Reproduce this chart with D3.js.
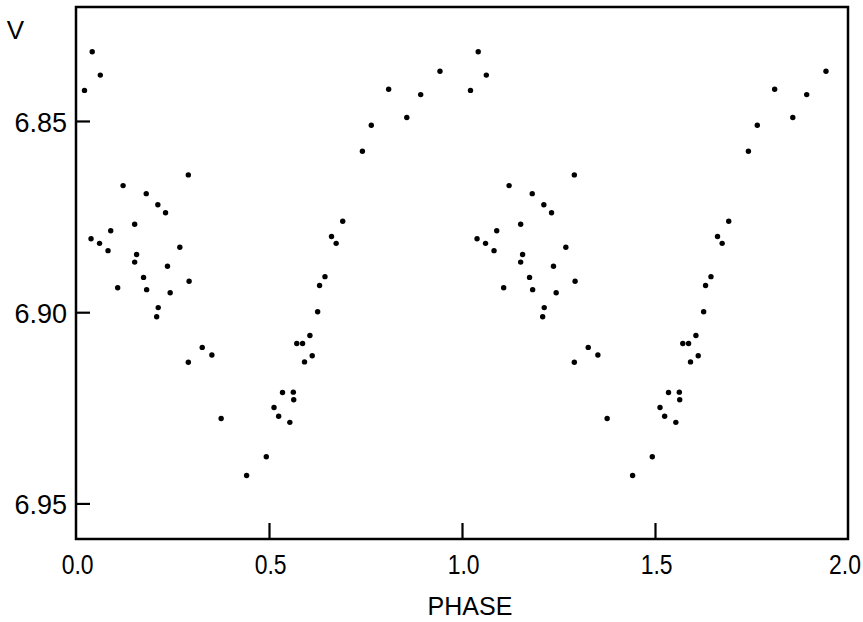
<!DOCTYPE html>
<html>
<head>
<meta charset="utf-8">
<script src="https://cdn.jsdelivr.net/npm/d3@7"></script>
<style>
  body { margin: 0; background: #fff; }
  text { font-family: "Liberation Sans", Arial, sans-serif; fill: #000; }
</style>
</head>
<body>
<div class="graph"></div>
<script>
// one cycle of observations, plotted twice (phase and phase + 1)
var phase = [0.022, 0.042, 0.063, 0.039, 0.061, 0.083, 0.090, 0.108, 0.122, 0.152,
             0.157, 0.152, 0.175, 0.182, 0.183, 0.212, 0.213, 0.209, 0.232, 0.237,
             0.244, 0.269, 0.291, 0.293, 0.291, 0.327, 0.352, 0.376, 0.442, 0.493,
             0.513, 0.525, 0.535, 0.554, 0.563, 0.564, 0.572, 0.587, 0.592, 0.612,
             0.606, 0.626, 0.631, 0.645, 0.662, 0.674, 0.691, 0.742, 0.765, 0.810,
             0.857, 0.893, 0.943];
var vmag = [6.8420, 6.8319, 6.8380, 6.8808, 6.8820, 6.8839, 6.8787, 6.8936, 6.8669, 6.8770,
            6.8849, 6.8869, 6.8909, 6.8690, 6.8941, 6.8719, 6.8988, 6.9012, 6.8740, 6.8880,
            6.8949, 6.8830, 6.8641, 6.8919, 6.9131, 6.9092, 6.9112, 6.9278, 6.9427, 6.9378,
            6.9249, 6.9272, 6.9210, 6.9288, 6.9209, 6.9229, 6.9082, 6.9082, 6.9130, 6.9114,
            6.9061, 6.8999, 6.8930, 6.8907, 6.8802, 6.8820, 6.8762, 6.8579, 6.8511, 6.8417,
            6.8491, 6.8431, 6.8370];
var xTicks = [0.0, 0.5, 1.0, 1.5, 2.0];
var yTicks = [6.85, 6.90, 6.95];

var width = 863;
var height = 622;

var svg = d3.select(".graph").append("svg")
  .attr("width", width)
  .attr("height", height);

var x = d3.scaleLinear().domain([0, 2]).range([76, 848]);
var y = d3.scaleLinear().domain([6.8202, 6.9593]).range([7, 539]);

var points = [];
phase.forEach(function (p, i) {
    points.push({ph: p, v: vmag[i]});
    points.push({ph: p + 1, v: vmag[i]});
});

// frame
svg.append("rect")
  .attr("x", x(0))
  .attr("y", y.range()[0])
  .attr("width", x(2) - x(0))
  .attr("height", y.range()[1] - y.range()[0])
  .attr("fill", "none")
  .attr("stroke", "#000")
  .attr("stroke-width", 2.5);

// x axis, ticks pointing inward
var xAxis = d3.axisBottom(x)
  .tickValues(xTicks)
  .tickSize(0)
  .tickPadding(16)
  .tickFormat(d3.format(".1f"));

var xAxisGroup = svg.append("g")
  .attr("transform", "translate(0," + y.range()[1] + ")")
  .call(xAxis);
xAxisGroup.select(".domain").remove();
xAxisGroup.selectAll(".tick text")
  .attr("transform", "scale(0.85,1)")
  .attr("dx", d => d === 2 ? "-0.15em" : "0.05em")
  .style("font-size", "27px");
xAxisGroup.selectAll(".tick").filter(function (d) { return d > 0 && d < 2; })
  .append("line")
  .attr("y2", -16)
  .attr("stroke", "#000")
  .attr("stroke-width", 2.2);

// y axis, ticks pointing inward
var yAxis = d3.axisLeft(y)
  .tickValues(yTicks)
  .tickSize(-14)
  .tickPadding(9)
  .tickFormat(d3.format(".2f"));

var yAxisGroup = svg.append("g")
  .attr("transform", "translate(" + x(0) + ",0)")
  .call(yAxis);
yAxisGroup.select(".domain").remove();
yAxisGroup.selectAll(".tick line").attr("stroke-width", 2.2);
yAxisGroup.selectAll(".tick text")
  .attr("dy", "0.38em")
  .style("font-size", "27px");

// observations
svg.append("g")
  .selectAll("circle")
  .data(points)
  .enter()
  .append("circle")
  .attr("cx", d => x(d.ph))
  .attr("cy", d => y(d.v))
  .attr("r", 2.7)
  .attr("fill", "#000");

svg.append("text")
  .attr("x", 470)
  .attr("y", 615)
  .style("text-anchor", "middle")
  .style("font-size", "25px")
  .text("PHASE");

svg.append("text")
  .attr("x", 15.5)
  .attr("y", 39)
  .style("text-anchor", "middle")
  .style("font-size", "26px")
  .text("V");
</script>
</body>
</html>
